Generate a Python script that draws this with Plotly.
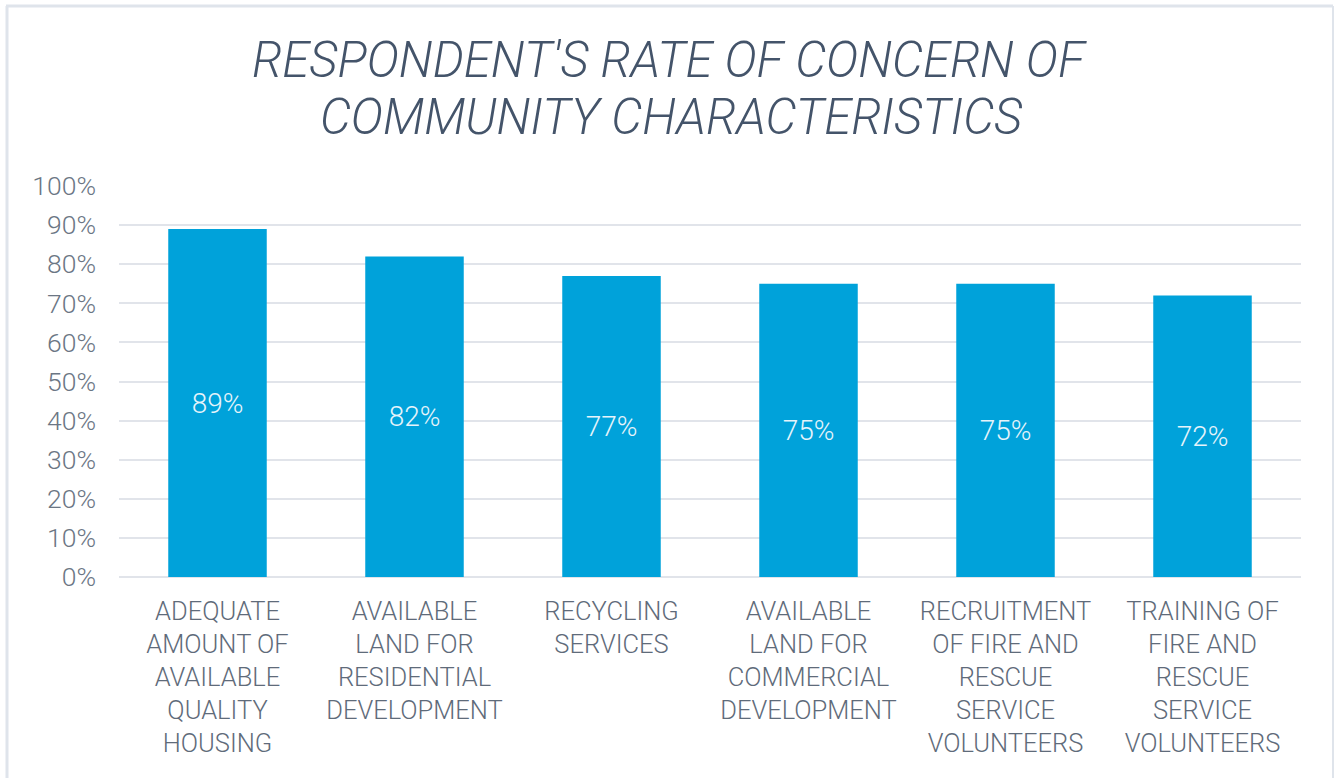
import plotly.graph_objects as go

categories = [
    "ADEQUATE<br>AMOUNT OF<br>AVAILABLE<br>QUALITY<br>HOUSING",
    "AVAILABLE<br>LAND FOR<br>RESIDENTIAL<br>DEVELOPMENT",
    "RECYCLING<br>SERVICES",
    "AVAILABLE<br>LAND FOR<br>COMMERCIAL<br>DEVELOPMENT",
    "RECRUITMENT<br>OF FIRE AND<br>RESCUE<br>SERVICE<br>VOLUNTEERS",
    "TRAINING OF<br>FIRE AND<br>RESCUE<br>SERVICE<br>VOLUNTEERS",
]
values = [0.89, 0.82, 0.77, 0.75, 0.75, 0.72]
labels = ["89%", "82%", "77%", "75%", "75%", "72%"]
title_lines = ["RESPONDENT'S RATE OF CONCERN OF", "COMMUNITY CHARACTERISTICS"]

W, H = 1335, 778
ml, mr, mt, mb = 119, 34, 186, 201
pw, ph = W - ml - mr, H - mt - mb

fig = go.Figure(go.Bar(
    x=categories, y=values, text=labels,
    textposition="inside", insidetextanchor="middle",
    textfont=dict(family="Roboto", size=28, color="#e6f4fb", weight=300),
    marker=dict(color="#00a2da", line=dict(width=0)),
    width=0.5, hoverinfo="skip",
))

def px_x(p):
    return (p - ml) / pw

def px_y(p):
    return (H - mb - p) / ph

title_font = dict(family="Roboto", size=49, color="#44546a", style="italic", weight=300)
annotations = [
    dict(text=title_lines[0], xref="paper", yref="paper", x=px_x(669), y=px_y(60),
         xanchor="center", yanchor="middle", showarrow=False, font=title_font),
    dict(text=title_lines[1], xref="paper", yref="paper", x=px_x(671), y=px_y(118),
         xanchor="center", yanchor="middle", showarrow=False, font=title_font),
]

fig.update_layout(
    width=W, height=H,
    margin=dict(l=ml, r=mr, t=mt, b=mb, autoexpand=False),
    paper_bgcolor="white", plot_bgcolor="white",
    showlegend=False,
    annotations=annotations,
    xaxis=dict(
        showgrid=False, showline=False, ticks="",
        tickfont=dict(family="Roboto", size=25.5, color="#5f6b7a", weight=300),
        tickangle=0, automargin=False, ticklabelstandoff=16,
    ),
    yaxis=dict(
        range=[0, 1.0], tickvals=[i / 10 for i in range(11)],
        tickformat=".0%",
        showgrid=True, gridcolor="#e1e4ea", gridwidth=2,
        zeroline=True, zerolinecolor="#e1e4ea", zerolinewidth=2,
        showline=False, ticks="", ticklen=0,
        tickfont=dict(family="Roboto", size=26.5, color="#6b7684", weight=300),
        automargin=False, fixedrange=True, ticklabelstandoff=22,
    ),
    shapes=[
        dict(type="line", xref="paper", yref="paper",
             x0=px_x(7), x1=px_x(7), y0=px_y(6), y1=px_y(H + 5),
             line=dict(color="#dfe4eb", width=3)),
        dict(type="line", xref="paper", yref="paper",
             x0=px_x(6), x1=px_x(1333), y0=px_y(6), y1=px_y(6),
             line=dict(color="#dfe4eb", width=3)),
        dict(type="line", xref="paper", yref="paper",
             x0=px_x(1333), x1=px_x(1333), y0=px_y(6), y1=px_y(H + 5),
             line=dict(color="#dfe4eb", width=2)),
    ],
)

fig.write_html("out.html")
